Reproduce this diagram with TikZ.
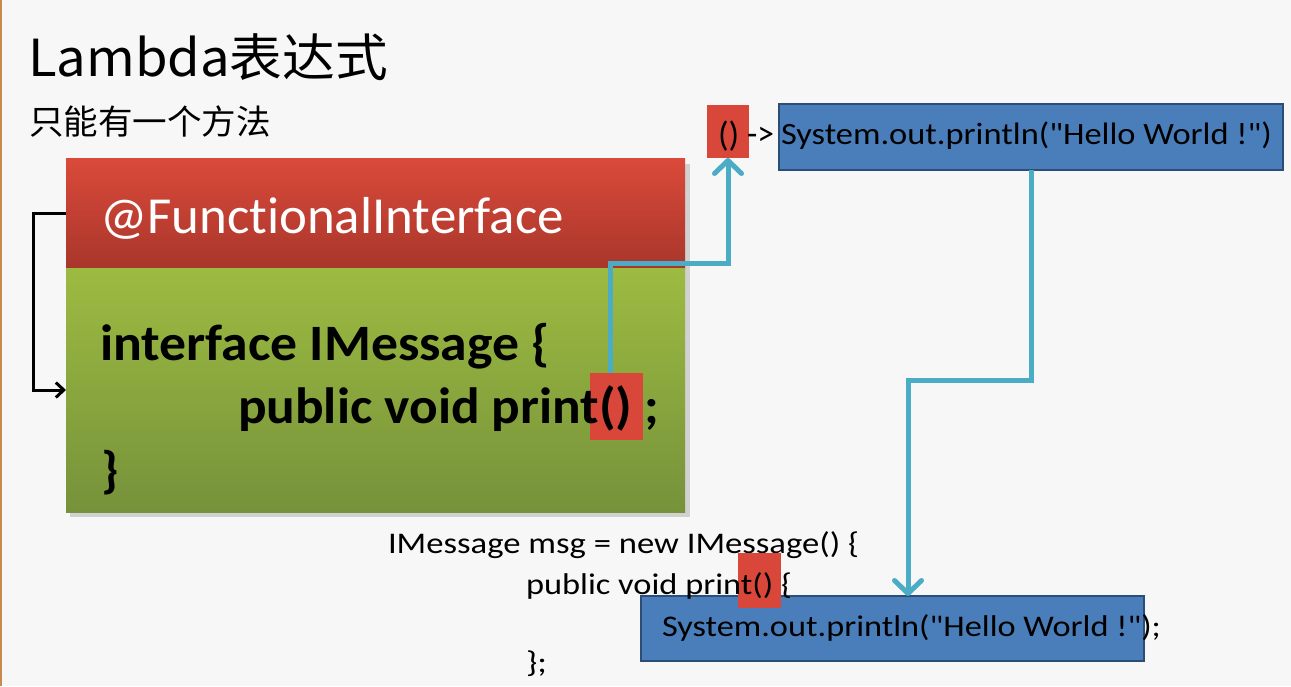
\documentclass[tikz,border=0pt]{standalone}
\usepackage{fontspec}
\usepackage{graphicx}
\setmainfont{Carlito}
\newfontfamily\calfont{Carlito}[Ligatures=NoCommon]
\newfontfamily\cjk{Noto Sans CJK SC}
\usetikzlibrary{arrows.meta}
\newcommand\fitw[2]{\resizebox{#1}{\height}{#2}}
\definecolor{bgc}{HTML}{F7F7F7}
\definecolor{redtop}{HTML}{DA4A3A}
\definecolor{redbot}{HTML}{A9362B}
\definecolor{grntop}{HTML}{9DBB41}
\definecolor{grnbot}{HTML}{76923B}
\definecolor{bluefill}{HTML}{4A7EBB}
\definecolor{blueedge}{HTML}{2C4D75}
\definecolor{cyanline}{HTML}{4BACC6}
\definecolor{parred}{HTML}{D9473A}
\definecolor{edgeorange}{HTML}{C98A4E}
\tikzset{
  plain/.style={inner sep=0pt, outer sep=0pt},
  redband/.style={plain, top color=redtop, bottom color=redbot, draw=none},
  greenband/.style={plain, top color=grntop, bottom color=grnbot, draw=none},
  bluebox/.style={plain, fill=bluefill, draw=blueedge, line width=1.5pt},
  parbox/.style={plain, fill=parred, draw=none},
  txt/.style={plain, anchor=base west},
  topcode/.style={font=\calfont\fontsize{31}{36}\selectfont},
  parcode/.style={font=\calfont\fontsize{35}{40}\selectfont},
  botcode/.style={font=\calfont\fontsize{30}{36}\selectfont},
  boldfont/.style={font=\calfont\bfseries\fontsize{51}{58}\selectfont},
  flow/.style={draw=cyanline, line width=5pt, -{Straight Barb[length=13pt,width=27pt,line width=5pt,round]}},
  backarrow/.style={draw=black, line width=3pt, -{Straight Barb[length=8pt,width=15pt,line width=3pt]}}
}
\begin{document}
\begin{tikzpicture}[x=1pt,y=-1pt]
\useasboundingbox (0,0) rectangle (1291,686);
\fill[bgc] (0,0) rectangle (1291,686);
\fill[edgeorange] (0,0) rectangle (2,686);

% title
\node[txt, font=\cjk\fontsize{51}{58}\selectfont] (title) at (28,76) {\fitw{360pt}{Lambda表达式}};
\node[txt, font=\cjk\fontsize{34}{40}\selectfont] (sub) at (29,134) {\fitw{242pt}{只能有一个方法}};

% main box
\fill[black!18] (70,164) rectangle (690,517);
\node[redband, minimum width=619pt, minimum height=110pt] (fi) at (375.5,213) {};
\node[greenband, minimum width=619pt, minimum height=244pt] (gb) at (375.5,390) {};
\node[txt, text=white, font=\calfont\fontsize{52}{60}\selectfont] (fitxt) at (100,233) {\fitw{464pt}{@FunctionalInterface}};
\node[parbox, minimum width=53pt, minimum height=67pt] (pp) at (616.5,406.5) {};
\node[txt, boldfont] (l1) at (100,360) {\fitw{450pt}{interface IMessage \{}};
\node[txt, boldfont] (l2) at (238,423) {\fitw{421pt}{public void print() ;}};
\node[txt, boldfont] (l3) at (101,487) {\}};

% lambda expression
\node[parbox, minimum width=42pt, minimum height=53pt] (lp) at (728,131.5) {};
\node[bluebox, minimum width=504pt, minimum height=66pt] (hw) at (1031,137) {};
\node[txt, parcode] (partxt) at (718,146) {()};
\node[txt, parcode] (arrowtxt) at (747,145) {\fitw{27pt}{->}};
\node[txt, topcode] (hwtxt) at (781,144) {\fitw{491pt}{System.out.println(\char"22 Hello World !\char"22)}};

% anonymous class
\node[bluebox, minimum width=503pt, minimum height=65pt] (hw2) at (892.5,628.5) {};
\node[txt, botcode] (b1) at (388,553) {\fitw{471pt}{IMessage msg = new IMessage() \{}};
\node[parbox, minimum width=43pt, minimum height=55pt] (bp) at (759.5,580.5) {};
\node[txt, botcode] (b2) at (526,594) {\fitw{266pt}{public void print() \{}};
\node[txt, botcode] (b3) at (662,636) {\fitw{499pt}{System.out.println(\char"22 Hello World !\char"22);}};
\node[txt, botcode] (b4) at (526,672) {\fitw{21pt}{\};}};

% connectors
\coordinate (turnA) at (610,263);
\coordinate (turnB) at (908,380);
\draw[flow] (pp.north -| turnA) -- (turnA) -| (lp.south);
\draw[flow] (hw.south) |- (turnB) -- (turnB |- hw2.north);
\draw[backarrow] (fi.west) -- ++(-33,0) |- (gb.west);
\end{tikzpicture}
\end{document}
